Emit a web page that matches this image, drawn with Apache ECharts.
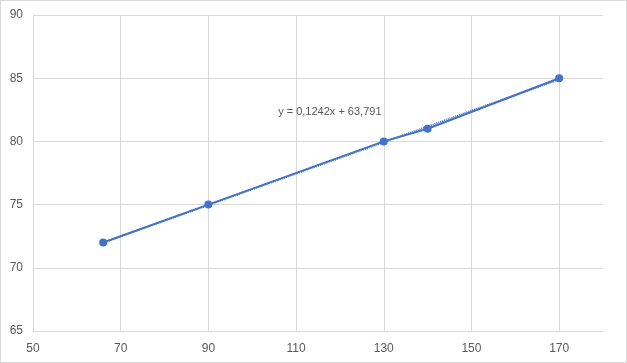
<!DOCTYPE html>
<html><head><meta charset="utf-8">
<script src="https://cdn.jsdelivr.net/npm/echarts@6/dist/echarts.min.js"></script>
<style>html,body{margin:0;padding:0;background:#fff}#c{width:627px;height:363px;box-sizing:border-box;border:1px solid #d9d9d9}</style>
</head><body><div id="c"></div>
<script>
const xValues = [66, 90, 130, 140, 170];
const yValues = [72, 75, 80, 81, 85];
const slope = 0.1242, intercept = 63.791;
const trendX = [66, 170];
const eqText = 'y = 0,1242x + 63,791';
const eqPos = [117.7, 82.3];

const chart = echarts.init(document.getElementById('c'));
const font = 'Liberation Sans';
chart.setOption({
  animation: false,
  grid: {left: 32, right: 23, top: 14, bottom: 31},
  xAxis: {type: 'value', min: 50, max: 180, interval: 20,
    axisLine: {show: true, lineStyle: {color: '#d9d9d9'}}, axisTick: {show: false},
    axisLabel: {color: '#595959', fontSize: 12, fontFamily: font, margin: 12, showMaxLabel: false},
    splitLine: {show: true, showMaxLine: false, lineStyle: {color: '#d9d9d9'}}},
  yAxis: {type: 'value', min: 65, max: 90, interval: 5,
    axisLine: {show: true, lineStyle: {color: '#d9d9d9'}}, axisTick: {show: false},
    axisLabel: {color: '#595959', fontSize: 12, fontFamily: font, margin: 10},
    splitLine: {show: true, lineStyle: {color: '#d9d9d9'}}},
  series: [
    {type: 'line', data: trendX.map(x => [x, slope * x + intercept]), symbol: 'none',
     lineStyle: {color: '#4472C4', width: 2, type: [1, 1]}, z: 1},
    {type: 'line', data: xValues.map((x, i) => [x, yValues[i]]), symbol: 'circle', symbolSize: 8,
     itemStyle: {color: '#4472C4'}, lineStyle: {color: '#4472C4', width: 2}, z: 2}
  ]
});
const p = chart.convertToPixel({gridIndex: 0}, eqPos);
chart.setOption({graphic: [{type: 'text', x: p[0], y: p[1],
  style: {text: eqText, fill: '#595959', font: '11px ' + font, textAlign: 'center', textVerticalAlign: 'middle'}}]});
</script></body></html>
